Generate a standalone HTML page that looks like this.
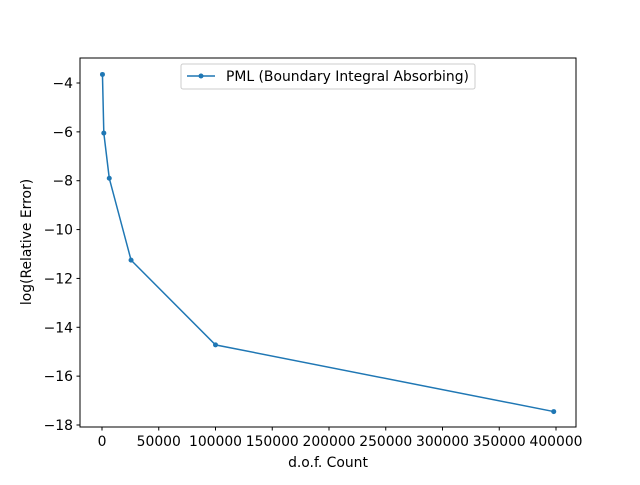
<!DOCTYPE html>
<html><head><meta charset="utf-8"><style>
body{margin:0;background:#fff}
svg text{font-family:"DejaVu Sans","Liberation Sans",sans-serif;font-size:13.9px;fill:#000}
</style></head><body>
<svg id="chart" width="640" height="480" xmlns="http://www.w3.org/2000/svg">
<rect width="640" height="480" fill="#fff"/>
<g id="grid"></g>
<g id="marks"></g>
<rect x="80" y="58" width="496" height="369" fill="none" stroke="#000" stroke-width="1"/>
<g>
<rect x="181" y="64" width="294" height="25" rx="2" fill="#fff" stroke="#ccc"/>
<line x1="187" y1="76" x2="215" y2="76" stroke="#1f77b4" stroke-width="1.5"/>
<circle cx="201" cy="76" r="2.5" fill="#1f77b4"/>
<text x="226" y="81">PML (Boundary Integral Absorbing)</text>
</g>
<text x="328" y="467" text-anchor="middle">d.o.f. Count</text>
<text transform="translate(31,242) rotate(-90)" text-anchor="middle">log(Relative Error)</text>
</svg>
<script>
const dofs=[400,1600,6400,25600,100000,398000];
const errors=[-3.65,-6.05,-7.9,-11.25,-14.72,-17.45];
const xTicks=[0,50000,100000,150000,200000,250000,300000,350000,400000];
const yTicks=[-4,-6,-8,-10,-12,-14,-16,-18];
const ns="http://www.w3.org/2000/svg";
const sx=v=>102+v*(454/400000);
const sy=v=>83+(-4-v)*(342/14);
const g=document.getElementById('grid');
const m=document.getElementById('marks');
function el(t,a,p){const e=document.createElementNS(ns,t);for(const k in a)e.setAttribute(k,a[k]);p.appendChild(e);return e;}
xTicks.forEach(v=>{
 const l=el('line',{x1:sx(v),x2:sx(v),y1:427,y2:430.5,stroke:'#000'},g);
 
 
 const t=el('text',{x:sx(v),y:446,'text-anchor':'middle'},g);t.textContent=v;
 
 
});
yTicks.forEach(v=>{
 const l=el('line',{x1:76.5,x2:80,y1:sy(v),y2:sy(v),stroke:'#000'},g);
 
 
 const t=el('text',{x:73,y:sy(v)+5,'text-anchor':'end'},g);t.textContent='\u2212'+Math.abs(v);
 
 
});
const pl=el('polyline',{points:dofs.map((d,i)=>sx(d)+','+sy(errors[i])).join(' '),fill:'none',stroke:'#1f77b4','stroke-width':1.5},m);


dofs.forEach((d,i)=>{
 const c=el('circle',{cx:sx(d),cy:sy(errors[i]),r:2.5,fill:'#1f77b4'},m);
 
 
});
</script>
</body></html>
